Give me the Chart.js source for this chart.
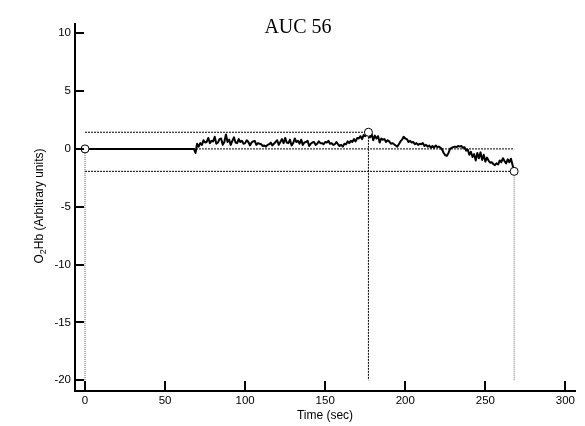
<!DOCTYPE html>
<html>
<head>
<meta charset="utf-8">
<script src="https://cdn.jsdelivr.net/npm/chart.js@4.4.1/dist/chart.umd.min.js"></script>
<style>
  html, body { margin: 0; padding: 0; background: #fff; }
</style>
</head>
<body>
<canvas id="aucChart" width="585" height="426"></canvas>
<script>
// 数据
const chartTitle = 'AUC 56';
const xTitle = 'Time (sec)';
const xTicks = [0, 50, 100, 150, 200, 250, 300];
const yTicks = [-20, -15, -10, -5, 0, 5, 10];
const xRange = [-6.25, 306];
const yRange = [-20.93, 10.8];

// 信号: 0 秒处的基线, 然后从 68 秒起每秒一个值
const baselinePoint = [0, 0];
const sampleStart = 68;
const o2hbValues = [
    0.0, -0.35, 0.45, 0.2, 0.5, 0.35, 0.75, 0.55, 0.6, 0.95,
    0.5, 0.7, 0.65, 1.05, 0.45, 0.55, 0.85, 0.9, 0.35, 0.6,
    1.25, 0.6, 0.8, 0.35, 0.7, 1.0, 0.55, 0.5, 0.85, 0.6,
    0.7, 0.45, 0.5, 0.75, 0.6, 0.3, 0.55, 0.65, 0.7, 0.35,
    0.5, 0.45, 0.4, 0.25, 0.3, 0.2, 0.35, 0.4, 0.55, 0.3,
    0.45, 0.6, 0.75, 0.35, 0.6, 0.85, 0.5, 0.95, 0.55, 0.5,
    0.8, 0.3, 0.5, 0.9, 0.6, 0.7, 0.45, 0.8, 0.35, 0.55,
    0.6, 0.7, 0.25, 0.45, 0.55, 0.6, 0.35, 0.45, 0.65, 0.5,
    0.5, 0.4, 0.6, 0.55, 0.7, 0.45, 0.5, 0.35, 0.4, 0.6,
    0.4, 0.25, 0.35, 0.2, 0.45, 0.4, 0.65, 0.5, 0.7, 0.6,
    0.85, 0.65, 0.95, 0.9, 1.1, 0.85, 1.2, 1.1, 1.25, 1.44,
    1.0, 1.3, 0.75, 1.15, 0.9, 1.1, 0.55, 0.9, 0.8, 0.85,
    0.6, 0.75, 0.65, 0.45, 0.5, 0.4, 0.3, 0.2, 0.4, 0.65,
    0.8, 1.05, 0.9, 0.85, 0.6, 0.7, 0.55, 0.6, 0.4, 0.5,
    0.35, 0.45, 0.4, 0.5, 0.25, 0.35, 0.2, 0.3, 0.1, 0.25,
    0.1, 0.3, 0.15, 0.2, 0.1, -0.05, -0.35, -0.55, -0.6, -0.35,
    0.0, 0.1, 0.15, 0.2, 0.15, 0.25, 0.2, 0.25, 0.1, 0.15,
    -0.15, -0.05, -0.5, -0.25, -0.7, -0.45, -1.0, -0.35, -0.8, -0.3,
    -0.95, -0.5, -1.1, -0.75, -1.0, -1.2, -1.15, -1.3, -1.4, -1.25,
    -1.35, -1.0, -1.15, -0.8, -1.05, -1.25, -0.9, -1.15, -0.85, -1.4,
    -1.94
];

// 标记点 (起点, 峰值, 终点) 和虚线下沿
const startMark = [0, 0];
const peakMark = [177, 1.44];
const endMark = [268, -1.94];
const dropFloor = -20;

const signalPoints = [{ x: baselinePoint[0], y: baselinePoint[1] }].concat(
    o2hbValues.map((v, i) => ({ x: sampleStart + i, y: v }))
);

const pt = (x, y) => ({ x: x, y: y });

const FONT = '"Liberation Sans", Arial, Helvetica, sans-serif';

// 内侧刻度线 + 标题 + 纵轴标题 (带下标)
const decorPlugin = {
    id: 'decor',
    afterDraw(chart) {
        const { ctx, chartArea, scales } = chart;
        ctx.save();
        ctx.strokeStyle = '#000';
        ctx.lineWidth = 2;
        xTicks.forEach(v => {
            const px = Math.round(scales.x.getPixelForValue(v));
            ctx.beginPath();
            ctx.moveTo(px, chartArea.bottom);
            ctx.lineTo(px, chartArea.bottom - 10);
            ctx.stroke();
        });
        yTicks.forEach(v => {
            const py = Math.round(scales.y.getPixelForValue(v));
            ctx.beginPath();
            ctx.moveTo(chartArea.left, py);
            ctx.lineTo(chartArea.left + 9, py);
            ctx.stroke();
        });

        // 标题
        ctx.fillStyle = '#000';
        ctx.font = '20px "Liberation Serif", "Times New Roman", serif';
        ctx.textAlign = 'center';
        ctx.textBaseline = 'alphabetic';
        ctx.fillText(chartTitle, 298, 33);

        // 纵轴标题 O2Hb (Arbitrary units)
        ctx.translate(40, 206);
        ctx.rotate(-Math.PI / 2);
        const big = '12px ' + FONT;
        const small = '9px ' + FONT;
        ctx.font = big;
        const wO = ctx.measureText('O').width;
        const wRest = ctx.measureText('Hb (Arbitrary units)').width;
        ctx.font = small;
        const w2 = ctx.measureText('2').width;
        let x0 = -(wO + w2 + wRest) / 2;
        ctx.textAlign = 'left';
        ctx.textBaseline = 'middle';
        ctx.font = big;
        ctx.fillText('O', x0, 0);
        ctx.font = small;
        ctx.fillText('2', x0 + wO, 4);
        ctx.font = big;
        ctx.fillText('Hb (Arbitrary units)', x0 + wO + w2, 0);
        ctx.restore();
    }
};

const dotted = (data, color, dash) => ({
    type: 'line',
    data: data,
    borderColor: color,
    borderWidth: 1,
    borderDash: dash,
    pointRadius: 0,
    fill: false,
    tension: 0,
    order: 3
});

new Chart(document.getElementById('aucChart').getContext('2d'), {
    type: 'line',
    data: {
        datasets: [
            {
                type: 'scatter',
                data: [pt(startMark[0], startMark[1]), pt(peakMark[0], peakMark[1]), pt(endMark[0], endMark[1])],
                pointRadius: 4,
                pointBackgroundColor: '#fff',
                pointBorderColor: '#000',
                pointBorderWidth: 1,
                showLine: false,
                order: 0
            },
            {
                data: signalPoints,
                borderColor: '#000',
                borderWidth: 2,
                borderJoinStyle: 'round',
                pointRadius: 0,
                fill: false,
                tension: 0,
                order: 1
            },
            dotted([pt(startMark[0], peakMark[1]), pt(peakMark[0], peakMark[1]), pt(peakMark[0], dropFloor)], '#000', [2, 1]),
            dotted([pt(startMark[0], startMark[1]), pt(endMark[0], startMark[1])], '#000', [2, 1]),
            dotted([pt(startMark[0], endMark[1]), pt(endMark[0], endMark[1])], '#000', [2, 1]),
            dotted([pt(startMark[0], startMark[1]), pt(startMark[0], dropFloor)], '#555', [1, 1]),
            dotted([pt(endMark[0], endMark[1]), pt(endMark[0], dropFloor)], '#777', [1, 1])
        ]
    },
    options: {
        responsive: false,
        animation: false,
        layout: { padding: { left: 0, right: 10, top: 24, bottom: 0 } },
        plugins: {
            legend: { display: false },
            title: { display: false },
            tooltip: { enabled: false }
        },
        scales: {
            x: {
                type: 'linear',
                min: xRange[0],
                max: xRange[1],
                afterBuildTicks: s => { s.ticks = xTicks.map(v => ({ value: v })); },
                afterFit: s => { s.height = 35; },
                grid: { drawOnChartArea: false, drawTicks: false },
                border: { display: true, color: '#000', width: 2 },
                ticks: {
                    padding: 3,
                    color: '#000',
                    maxRotation: 0,
                    autoSkip: false,
                    font: { family: FONT, size: 11.5 }
                },
                title: {
                    display: true,
                    text: xTitle,
                    color: '#000',
                    font: { family: FONT, size: 12 },
                    padding: { top: 0, bottom: 3 }
                }
            },
            y: {
                type: 'linear',
                min: yRange[0],
                max: yRange[1],
                afterBuildTicks: s => { s.ticks = yTicks.map(v => ({ value: v })); },
                afterFit: s => { s.width = 75; },
                grid: { drawOnChartArea: false, drawTicks: false },
                border: { display: true, color: '#000', width: 2 },
                ticks: {
                    padding: 4,
                    color: '#000',
                    autoSkip: false,
                    font: { family: FONT, size: 11.5 }
                }
            }
        }
    },
    plugins: [decorPlugin]
});
</script>
</body>
</html>
